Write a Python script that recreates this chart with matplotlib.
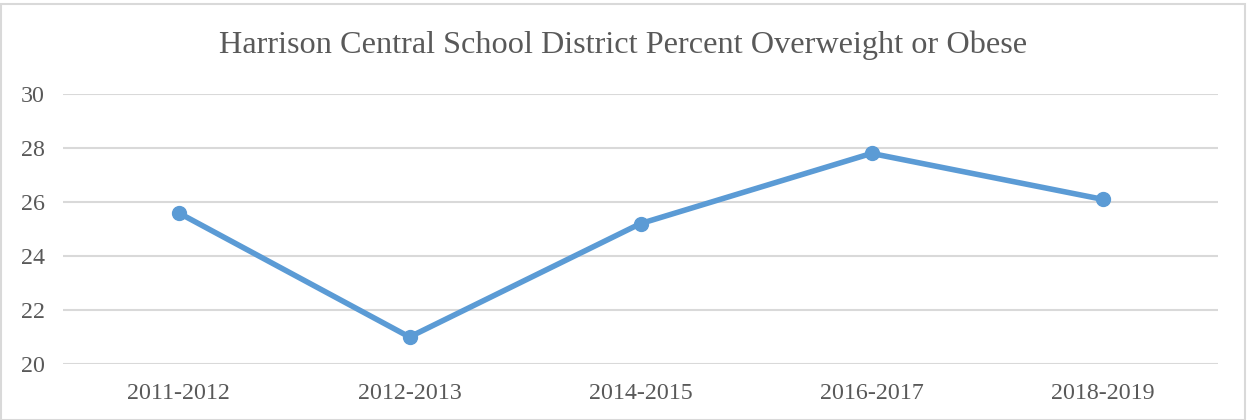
import numpy as np
import matplotlib.pyplot as plt

years = ['2011-2012', '2012-2013', '2014-2015', '2016-2017', '2018-2019']
percent = [25.6, 21.0, 25.2, 27.8, 26.1]
yticks = [20, 22, 24, 26, 28, 30]

plt.rcParams['font.family'] = ['Liberation Serif', 'DejaVu Serif']

fig = plt.figure(figsize=(12.47, 4.2), dpi=100)
fig.patch.set_facecolor('white')
# light border round the chart
fig.add_artist(plt.Rectangle((0.001, 0.001), 0.997, 0.99, transform=fig.transFigure,
                             fill=False, edgecolor='#d9d9d9', linewidth=1.5))

ax = fig.add_axes([63/1247, 1 - 364/420, (1218 - 63)/1247, (364 - 94)/420])
x = np.arange(len(years))
ax.plot(x, percent, color='#5b9bd5', linewidth=4, marker='o', markersize=10,
        solid_capstyle='round', solid_joinstyle='round', zorder=3)

ax.set_xlim(-0.5, len(years) - 0.5)
ax.set_ylim(20, 30)
ax.set_yticks(yticks)
ax.set_xticks(x)
ax.set_xticklabels(years)
ax.grid(axis='y', color='#d9d9d9', linewidth=1.5)
ax.set_axisbelow(True)
for s in ax.spines.values():
    s.set_visible(False)
ax.tick_params(length=0, labelsize=17.3, colors='#595959')
ax.tick_params(axis='y', pad=13)
ax.tick_params(axis='x', pad=14)

fig.text(0.5, 1 - 45/420, 'Harrison Central School District Percent Overweight or Obese',
         ha='center', va='center', fontsize=23.2, color='#595959')

fig.savefig('out.png', dpi=100)
